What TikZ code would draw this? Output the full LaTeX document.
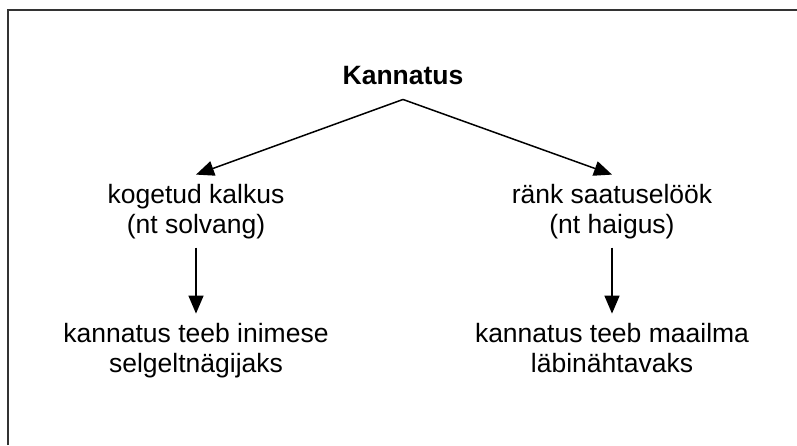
\documentclass[tikz,border=0pt]{standalone}
\usepackage{fontspec}
\setmainfont{Liberation Sans}
\usetikzlibrary{arrows.meta, positioning}

\begin{document}
\begin{tikzpicture}[x=1pt, y=-1pt, >={Triangle[length=18pt,width=15pt]},
			head/.style={font=\fontsize{26.5}{30}\selectfont\bfseries, inner sep=15pt, anchor=base},
			item/.style={font=\fontsize{26.5}{30}\selectfont, align=center, inner sep=9pt, anchor=base},
			frame/.style={line width=1.4pt, black!80}
			]
			\useasboundingbox (0,0) rectangle (797,445);
			\draw[frame] (8,445) -- (8,10) -- (797,10);
			
			\node [head](root) at (403,84) {Kannatus};
			
			\node [item](kalkus) at (196,233) {kogetud kalkus\\(nt solvang)};
			\node [item](loog) at (612,233) {ränk saatuselöök\\(nt haigus)};
			
			\node [item](inimene) at (196,372) {kannatus teeb inimese\\selgeltnägijaks};
			\node [item](maailm) at (612,372) {kannatus teeb maailma\\läbinähtavaks};
			
			
			\draw[line width=1.5pt, black, ->] (root.south) -- (kalkus.north);
			\draw[line width=1.5pt, black, ->] (root.south) -- (loog.north);
			
			\draw[line width=1.5pt, black, ->] (kalkus) -- (inimene);
			\draw[line width=1.5pt, black, ->] (loog) -- (maailm);
			
		\end{tikzpicture}
\end{document}
